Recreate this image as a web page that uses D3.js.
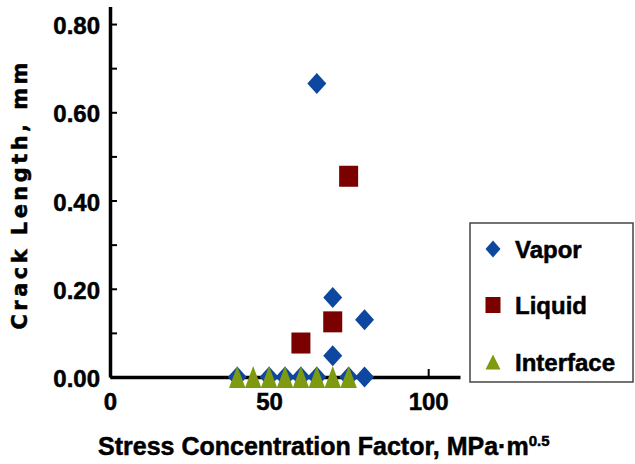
<!DOCTYPE html>
<html>
<head>
<meta charset="utf-8">
<script src="https://cdn.jsdelivr.net/npm/d3@7"></script>
<style>
  body { margin: 0; background: #fff; }
  text { font-family: "Liberation Sans", Arial, sans-serif; font-weight: bold; fill: #000; stroke: #000; stroke-width: 0.5px; }
</style>
</head>
<body>
<script>
//scatter of crack length vs stress concentration factor

//data
var seriesNames = ["Vapor", "Liquid", "Interface"];
var vaporX = [65, 70, 80, 70, 80, 40, 50, 55, 60, 65, 75];
var vaporY = [0.665, 0.18, 0.13, 0.048, 0, 0, 0, 0, 0, 0, 0];
var liquidX = [75, 70, 60];
var liquidY = [0.455, 0.125, 0.077];
var interfaceX = [40, 45, 50, 55, 60, 65, 70, 75];
var interfaceY = [0, 0, 0, 0, 0, 0, 0, 0];
var xTicks = [0, 50, 100];
var yTicks = [0, 0.2, 0.4, 0.6, 0.8];
var yMinorTicks = [0.1, 0.3, 0.5, 0.7];

var width = 635, height = 464;
var colors = {Vapor: "#0e47a0", Liquid: "#7b0000", Interface: "#7d9a10"};

var svg = d3.select("body").append("svg")
    .attr("width", width)
    .attr("height", height);

//scales
var x = d3.scaleLinear().domain([0, 110]).range([110, 460]);
var y = d3.scaleLinear().domain([0, 0.84]).range([377, 6.4]);

//y axis, ticks point inward
var yAxis = svg.append("g")
    .attr("transform", "translate(" + x(0) + ",0)")
    .call(d3.axisLeft(y)
        .tickValues(yTicks.concat(yMinorTicks).sort(d3.ascending))
        .tickSizeInner(-7)
        .tickSizeOuter(0)
        .tickPadding(10)
        .tickFormat(function(d){
            return yTicks.indexOf(d) >= 0 ? d3.format(".2f")(d) : "";
        }));

//x axis
var xAxis = svg.append("g")
    .attr("transform", "translate(0," + y(0) + ")")
    .call(d3.axisBottom(x)
        .tickValues(xTicks)
        .tickSizeInner(-8)
        .tickSizeOuter(0)
        .tickPadding(16)
        .tickFormat(d3.format("d")));

svg.selectAll(".domain").attr("stroke", "#000").attr("stroke-width", 3.5);
svg.selectAll(".tick line").attr("stroke", "#000").attr("stroke-width", 2);
svg.selectAll(".tick text")
    .style("font-family", "Liberation Sans, Arial, sans-serif")
    .style("font-weight", "bold")
    .style("font-size", "24px")
    .attr("fill", "#000");
yAxis.selectAll(".tick text").attr("dy", "0.4em");
xAxis.select(".tick line").remove();

//markers
var diamond = function(cx, cy, w, h){
    return "M" + cx + "," + (cy - h / 2) + "L" + (cx + w / 2) + "," + cy +
        "L" + cx + "," + (cy + h / 2) + "L" + (cx - w / 2) + "," + cy + "Z";
};
var triangle = function(cx, cy, w, h){
    return "M" + cx + "," + (cy - h / 2) + "L" + (cx + w / 2) + "," + (cy + h / 2) +
        "L" + (cx - w / 2) + "," + (cy + h / 2) + "Z";
};

svg.append("g").selectAll("path")
    .data(vaporX)
    .enter()
    .append("path")
    .attr("d", function(d, i){ return diamond(x(d), y(vaporY[i]), 19, 21); })
    .attr("fill", colors.Vapor);

svg.append("g").selectAll("rect")
    .data(liquidX)
    .enter()
    .append("rect")
    .attr("x", function(d){ return x(d) - 9.5; })
    .attr("y", function(d, i){ return y(liquidY[i]) - 10.5; })
    .attr("width", 19)
    .attr("height", 21)
    .attr("fill", colors.Liquid);

svg.append("g").selectAll("path")
    .data(interfaceX)
    .enter()
    .append("path")
    .attr("d", function(d, i){ return triangle(x(d), y(interfaceY[i]), 16.5, 22); })
    .attr("fill", colors.Interface);

//axis titles
svg.append("text")
    .attr("transform", "translate(27,196) rotate(-90)")
    .attr("text-anchor", "middle")
    .attr("textLength", 267)
    .attr("lengthAdjust", "spacing")
    .style("font-family", "DejaVu Sans, sans-serif")
    .style("font-size", "21px")
    .text("Crack Length, mm");

var xTitle = svg.append("text")
    .attr("x", 98)
    .attr("y", 455)
    .style("font-size", "25px");
xTitle.append("tspan").text("Stress Concentration Factor, MPa\u00b7m");
xTitle.append("tspan")
    .attr("dy", -9)
    .style("font-size", "15px")
    .text("0.5");

//legend
var legend = svg.append("g");
legend.append("rect")
    .attr("x", 470)
    .attr("y", 223)
    .attr("width", 163)
    .attr("height", 159)
    .attr("fill", "#fff")
    .attr("stroke", "#444")
    .attr("stroke-width", 1.5);

var legendY = [249, 305, 362];
seriesNames.forEach(function(name, i){
    var cy = legendY[i];
    if (name == "Vapor"){
        legend.append("path").attr("d", diamond(493, cy, 15, 17)).attr("fill", colors[name]);
    } else if (name == "Liquid"){
        legend.append("rect").attr("x", 485.5).attr("y", cy - 8).attr("width", 15).attr("height", 16).attr("fill", colors[name]);
    } else {
        legend.append("path").attr("d", triangle(493, cy, 15, 15)).attr("fill", colors[name]);
    }
    legend.append("text")
        .attr("x", 515)
        .attr("y", cy + 8.6)
        .style("font-size", "24px")
        .text(name);
});
</script>
</body>
</html>
